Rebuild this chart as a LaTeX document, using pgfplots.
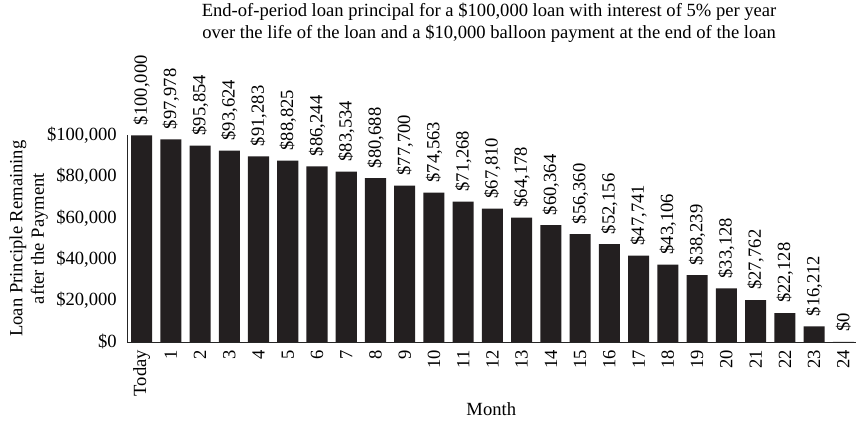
\documentclass[border=0pt]{standalone}
\usepackage{pgfplots}
\usepackage{pgfplotstable}
\pgfplotsset{compat=1.18}
\usepackage{fontspec}
\setmainfont{Liberation Serif}
\definecolor{barc}{HTML}{231F20}
\newcommand{\cf}{\fontsize{18.6}{21.5}\selectfont}

\pgfplotstableread{
x y lab
0 100000 100,000
1 98065 97,978
2 95020 95,854
3 92600 93,624
4 89845 91,283
5 87766 88,825
6 85010 86,244
7 82447 83,534
8 79207 80,688
9 75677 77,700
10 72292 74,563
11 67940 71,268
12 64555 67,810
13 60203 64,178
14 56480 60,364
15 52128 56,360
16 47292 52,156
17 41828 47,741
18 37476 43,106
19 32302 38,239
20 25870 33,128
21 20213 27,762
22 13926 22,128
23 7495 16,212
24 0 0
}\loandata

\begin{document}
\begin{tikzpicture}
\path (-127pt,-80.5pt) rectangle (729pt,339.5pt);
\begin{axis}[
  at={(0pt,0pt)}, anchor=south west,
  scale only axis, width=729pt, height=206.8pt,
  xmin=-0.5, xmax=24.42, ymin=0, ymax=100000,
  axis x line*=bottom, axis y line*=left,
  axis line style={-, black!85, line width=0.8pt},
  major tick length=0pt,
  xtick={0,1,2,3,4,5,6,7,8,9,10,11,12,13,14,15,16,17,18,19,20,21,22,23,24},
  xticklabels={Today,1,2,3,4,5,6,7,8,9,10,11,12,13,14,15,16,17,18,19,20,21,22,23,24},
  ytick={0,20000,40000,60000,80000,100000},
  yticklabels={{\$0},{\$20,000},{\$40,000},{\$60,000},{\$80,000},{\$100,000}},
  scaled y ticks=false,
  tick label style={font=\cf},
  xticklabel style={rotate=90, anchor=east, inner sep=0pt, inner xsep=8pt},
  yticklabel style={anchor=east, inner sep=0pt, inner xsep=10pt},
  title={End-of-period loan principal for a \$100,000 loan with interest of 5\% per year\\over the life of the loan and a \$10,000 balloon payment at the end of the loan},
  title style={align=center, font=\cf, at={(axis description cs:0.497,1.515)}, anchor=center},
  xlabel={Month},
  xlabel style={font=\cf, at={(axis description cs:0.5,-0.326)}, anchor=center},
  ylabel={Loan Principle Remaining\\after the Payment},
  ylabel style={font=\cf, align=center, at={(axis description cs:-0.135,0.5)}, anchor=center},
  clip=false,
]
\addplot[ybar, bar width=0.72, fill=barc, draw=none,
  point meta=explicit symbolic,
  nodes near coords={\$\pgfplotspointmeta},
  every node near coord/.append style={font=\cf, rotate=90, anchor=west, inner sep=0pt, inner xsep=10pt, text=black}
] table[x=x, y=y, meta=lab] {\loandata};
\end{axis}
\end{tikzpicture}
\end{document}
